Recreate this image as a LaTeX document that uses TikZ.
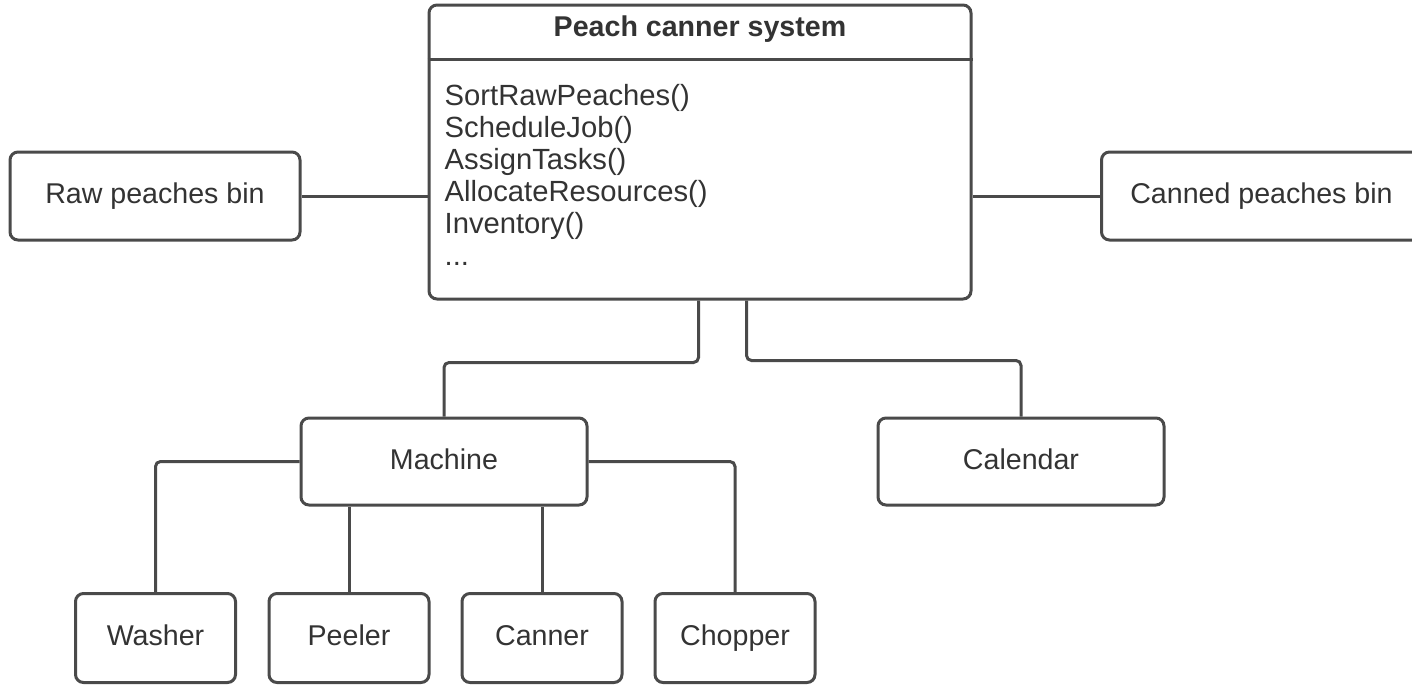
\documentclass[tikz,border=0pt]{standalone}
\usepackage{fontspec}
\setmainfont{Liberation Sans}
\definecolor{edge}{HTML}{4A4A4A}
\definecolor{ink}{HTML}{333333}
\tikzset{
  txt/.style={text=ink, font=\fontsize{28.6}{32}\selectfont},
  box/.style={txt, draw=edge, line width=3pt, rounded corners=8pt, fill=white,
    inner sep=0pt, text height=21pt, text depth=6pt},
  leaf/.style={box, minimum width=160pt, minimum height=89pt},
  link/.style={draw=edge, line width=3pt, rounded corners=5pt},
}
\begin{document}
\begin{tikzpicture}[x=1pt,y=-1pt]
\useasboundingbox (0,0) rectangle (1412,686);
\clip (0,0) rectangle (1412,686);
\fill[white] (0,0) rectangle (1412,686);

% central system class
\node[box, minimum width=542pt, minimum height=294pt] (sys) at (700,152) {};
\draw[edge, line width=3pt] ([yshift=-56pt]sys.north west) -- ([yshift=-56pt]sys.north east);
\node[txt, font=\fontsize{28.6}{32}\selectfont\bfseries, anchor=base] (title)
  at ([yshift=-33pt]sys.north) {Peach canner system};
\node[txt, font=\fontsize{29.2}{32}\selectfont, anchor=north west, align=left, inner sep=0pt] (ops)
  at ([shift={(17pt,-81pt)}]sys.north west)
  {SortRawPeaches()\\ScheduleJob()\\AssignTasks()\\AllocateResources()\\Inventory()\\...};

% bins
\node[box, minimum width=290pt, minimum height=88pt] (raw) at (155,196) {Raw peaches bin};
\node[box, minimum width=320pt, minimum height=88pt] (canned) at (1261.5,196) {Canned peaches bin};

% second level
\node[box, minimum width=286pt, minimum height=87pt] (mach) at (444,461.5) {Machine};
\node[box, minimum width=286pt, minimum height=87pt] (cal) at (1021,461.5) {Calendar};

% machines
\node[leaf] (wash) at (155.5,638) {Washer};
\node[leaf] (peel) at (349,638) {Peeler};
\node[leaf] (can) at (542,638) {Canner};
\node[leaf] (chop) at (735,638) {Chopper};

% connectors
\draw[link] (raw.east) -- (raw.east -| sys.west);
\draw[link] (canned.west) -- (canned.west -| sys.east);
\draw[link] ([xshift=271pt]sys.south west) -- ++(0,62) -| (mach.north);
\draw[link] ([xshift=319pt]sys.south west) -- ++(0,60) -| (cal.north);
\draw[link] (mach.west) -| (wash.north);
\draw[link] (mach.east) -| (chop.north);
\draw[link] (mach.south -| peel.north) -- (peel.north);
\draw[link] (mach.south -| can.north) -- (can.north);
\end{tikzpicture}
\end{document}
